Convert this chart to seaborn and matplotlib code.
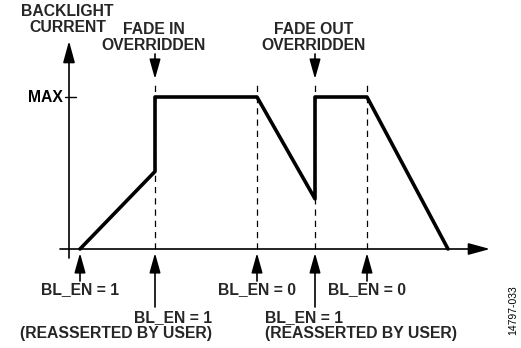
import matplotlib
matplotlib.use("Agg")
import matplotlib.pyplot as plt
import seaborn as sns
import pandas as pd

sns.set_theme(style="white")
plt.rcParams['font.family'] = ['Liberation Sans', 'DejaVu Sans']

# Signal (time in arbitrary units, current as fraction of MAX)
time = [1.1, 8.6, 8.6, 18.8, 24.6, 24.6, 29.8, 37.9]
current = [0.0, 0.51, 1.0, 1.0, 0.33, 1.0, 1.0, 0.0]

# Event markers (dashed guides)
event_times = [8.6, 18.8, 24.6, 29.8]

# Bottom labels
bottom_events = [1.1, 8.6, 18.8, 24.6, 29.8]
bottom_labels = ["BL_EN = 1", "BL_EN = 1\n(REASSERTED BY USER)", "BL_EN = 0",
                 "BL_EN = 1\n(REASSERTED BY USER)", "BL_EN = 0"]
top_events = [8.6, 24.6]
top_labels = ["FADE IN\nOVERRIDDEN", "FADE OUT\nOVERRIDDEN"]

df = pd.DataFrame({"time": time, "current": current})

FS = 11.3
LS = 1.05

W, H = 521, 348
fig = plt.figure(figsize=(W / 100, H / 100), dpi=100)
ax = fig.add_axes([0, 0, 1, 1])
k = 10.0      # px per time unit
ky = 152.0    # px per MAX
x0, y0 = 69, 249
ax.set_xlim(-x0 / k, (W - x0) / k)
ax.set_ylim((y0 - H) / ky, y0 / ky)
ax.axis("off")

px = 1.0 / k
py = 1.0 / ky

# axes
ax.annotate("", xy=(0, (y0 - 41) * py), xytext=(0, -9 * py),
            arrowprops=dict(arrowstyle="-|>,head_length=1.1,head_width=0.3", color="black", lw=1.2,
                            shrinkA=0, shrinkB=0))
ax.annotate("", xy=((490 - x0) * px, 0), xytext=(-9 * px, 0),
            arrowprops=dict(arrowstyle="-|>,head_length=1.1,head_width=0.3", color="black", lw=1.2,
                            shrinkA=0, shrinkB=0))
# MAX tick
ax.plot([-4 * px, 7 * px], [1, 1], color="black", lw=1.0)
ax.text(-6 * px, 1, "MAX", ha="right", va="center", fontsize=FS, fontweight="bold", color="black")

# dashed guides
for t in event_times:
    ax.plot([t, t], [0, (y0 - 82) * py], color="black", lw=0.9, ls=(0, (5, 4)))

# signal
sns.lineplot(data=df, x="time", y="current", ax=ax, color="black", lw=2.6, sort=False,
             estimator=None)
ax.set_xlabel("")
ax.set_ylabel("")

# top labels + arrows
ax.text(-1.5 * px, (y0 - 19.5) * py, "BACKLIGHT\nCURRENT", ha="center", va="center",
        fontsize=FS, fontweight="bold", linespacing=LS)
for t, lab in zip(top_events, top_labels):
    ax.text(t - 1.5 * px, (y0 - 37.5) * py, lab, ha="center", va="center", fontsize=FS,
            fontweight="bold", linespacing=LS)
    ax.annotate("", xy=(t, (y0 - 79) * py), xytext=(t, (y0 - 54) * py),
                arrowprops=dict(arrowstyle="-|>,head_length=1.0,head_width=0.28", color="black",
                                lw=1.2, shrinkA=0, shrinkB=0))

# bottom arrows + labels
for t, lab in zip(bottom_events, bottom_labels):
    long = "\n" in lab
    tail = 307 if long else 281
    ax.annotate("", xy=(t, (y0 - 253) * py), xytext=(t, (y0 - tail) * py),
                arrowprops=dict(arrowstyle="-|>,head_length=1.0,head_width=0.28", color="black",
                                lw=1.2, shrinkA=0, shrinkB=0))
    if not long:
        ax.text(t, (y0 - 290) * py, lab, ha="center", va="center", fontsize=FS,
                fontweight="bold")

ax.text(8.6 + 57 * px, (y0 - 325.5) * py, bottom_labels[1], ha="right", va="center",
        fontsize=FS, fontweight="bold", linespacing=LS, multialignment="right")
ax.text(24.6 - 50 * px, (y0 - 325.5) * py, bottom_labels[3], ha="left", va="center",
        fontsize=FS, fontweight="bold", linespacing=LS, multialignment="left")

ax.text((513 - x0) * px, (y0 - 310) * py, "14797-033", rotation=90, ha="center", va="center",
        fontsize=7.5, color="black")

fig.savefig("out.png", dpi=100)
